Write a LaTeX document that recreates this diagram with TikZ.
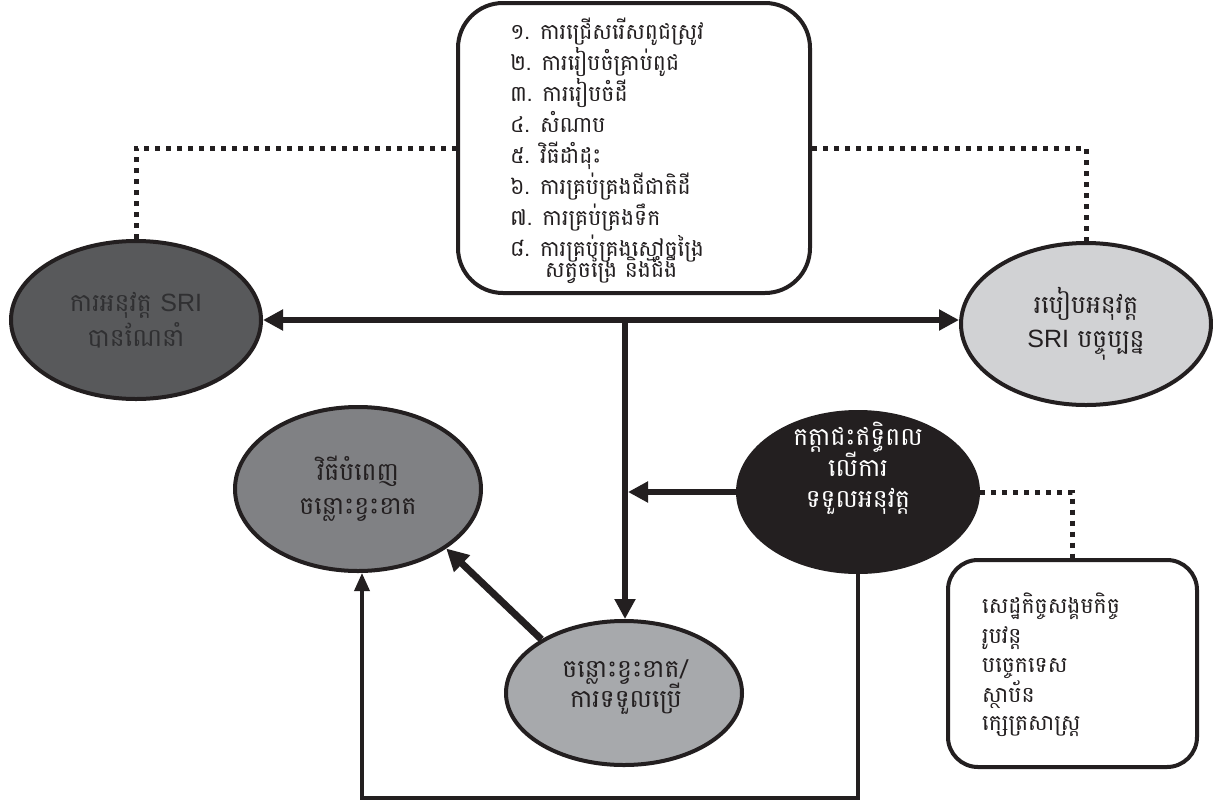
\documentclass[tikz,border=0pt]{standalone}
\usepackage{fontspec}
\newfontfamily\kh[Script=Khmer]{Battambang}
\newfontfamily\lat{Liberation Sans}
\usetikzlibrary{shapes.geometric,arrows.meta}
\definecolor{cL}{RGB}{88,89,91}
\definecolor{cLt}{RGB}{48,48,50}
\definecolor{cR}{RGB}{209,210,212}
\definecolor{cBL}{RGB}{128,129,132}
\definecolor{cBot}{RGB}{167,169,172}
\definecolor{cBlk}{RGB}{35,31,32}
\definecolor{ink}{RGB}{35,31,32}
\tikzset{
  ell/.style={ellipse, draw=ink, line width=4pt, inner sep=0pt, align=center, text=ink},
  kf/.style={font={\kh\fontsize{25}{#1}\selectfont\lineskiplimit=-100pt\lineskip=0pt}},
  kfs/.style={font={\kh\fontsize{22}{#1}\selectfont\lineskiplimit=-100pt\lineskip=0pt}},
  etext/.style={inner sep=0pt, align=center, text=ink},
  lst/.style={anchor=base west, inner sep=0pt, text=ink, kfs=31},
  box/.style={draw=ink, line width=4pt, rectangle, inner sep=0pt},
  dots/.style={draw=ink, line width=5pt, dash pattern=on 5pt off 6pt},
  arr/.style={draw=ink, line width=5.5pt, -{Triangle[length=20pt,width=20pt]}},
  darr/.style={draw=ink, line width=5.5pt, {Triangle[length=20pt,width=20pt]}-{Triangle[length=20pt,width=20pt]}},
  thin/.style={draw=ink, line width=3.5pt, -{Triangle[length=18pt,width=15pt]}},
}
\begin{document}
\begin{tikzpicture}[x=1pt,y=-1pt]
\useasboundingbox (0,0) rectangle (1213,809);
\fill[white] (0,0) rectangle (1213,809);

% top box
\node[box, rounded corners=45pt, minimum width=352pt, minimum height=290pt] (top) at (634,148) {};
\node[lst] (t1) at (510,39) {១. ការជ្រើសរើសពូជស្រូវ};
\node[lst] (t2) at (510,70) {២. ការរៀបចំគ្រាប់ពូជ};
\node[lst] (t3) at (510,101) {៣. ការរៀបចំដី};
\node[lst] (t4) at (510,132) {៤. សំណាប};
\node[lst] (t5) at (510,163) {៥. វិធីដាំដុះ};
\node[lst] (t6) at (510,194) {៦. ការគ្រប់គ្រងជីជាតិដី};
\node[lst] (t7) at (510,225) {៧. ការគ្រប់គ្រងទឹក};
\node[lst] (t8) at (510,256) {៨. ការគ្រប់គ្រងស្មៅចង្រៃ};
\node[lst] (t9) at (545,277) {សត្វចង្រៃ និងជំងឺ};

% ellipses
\node[ell, fill=cL, text=cLt, kf=35, minimum width=250pt, minimum height=158pt] (L) at (136,320) {ការអនុវត្ត {\lat SRI}\\បានណែនាំ};
\node[ell, fill=cR, kf=34, minimum width=250pt, minimum height=162pt] (R) at (1086,324) {របៀបអនុវត្ត\\{\lat SRI} បច្ចុប្បន្ន};
\node[ell, fill=cBL, kf=34, minimum width=246pt, minimum height=164pt] (BL) at (358,489) {វិធីបំពេញ\\ចន្លោះខ្វះខាត};
\node[ell, fill=cBlk, minimum width=240pt, minimum height=160pt] (K) at (858,492) {};
\node[etext, text=white, kf=31] (Kt) at (858,468) {កត្តាជះឥទ្ធិពល\\លើការ\\ទទួលអនុវត្ត};
\node[ell, fill=cBot, minimum width=236pt, minimum height=144pt] (B) at (624,693) {};
\node[etext, kf=30] (Bt) at (626,687) {ចន្លោះខ្វះខាត/\\ការទទួលប្រើ};

% factor box
\node[box, rounded corners=30pt, minimum width=249pt, minimum height=207pt] (F) at (1072.5,663.5) {};
\node[lst, kfs=30] (f1) at (982,613) {សេដ្ឋកិច្ចសង្គមកិច្ច};
\node[lst, kfs=30] (f2) at (982,643) {រូបវន្ត};
\node[lst, kfs=30] (f3) at (982,672) {បច្ចេកទេស};
\node[lst, kfs=30] (f4) at (982,702) {ស្ថាប័ន};
\node[lst, kfs=30] (f5) at (982,730) {ក្សេត្រសាស្ត្រ};

% dotted connectors
\draw[dots] (L.north) |- (top.west);
\draw[dots] (top.east) -| (R.north);
\draw[dots] (K.east) -| (F.north);

% arrows
\coordinate (hj) at (625,320);
\coordinate (vr) at (628,320);
\coordinate (bc) at (362,798);
\draw[darr] (L.east) -- (L.east -| R.west);
\draw[arr] (hj) -- (hj |- B.north);
\draw[arr] (K.west) -- (K.west -| vr);
\draw[draw=ink, line width=7pt, -{Triangle[length=22pt,width=22pt]}] (B.147) -- (BL.-34);
\draw[thin] (K.south) |- (bc) -- (bc |- BL.south);
\end{tikzpicture}
\end{document}
